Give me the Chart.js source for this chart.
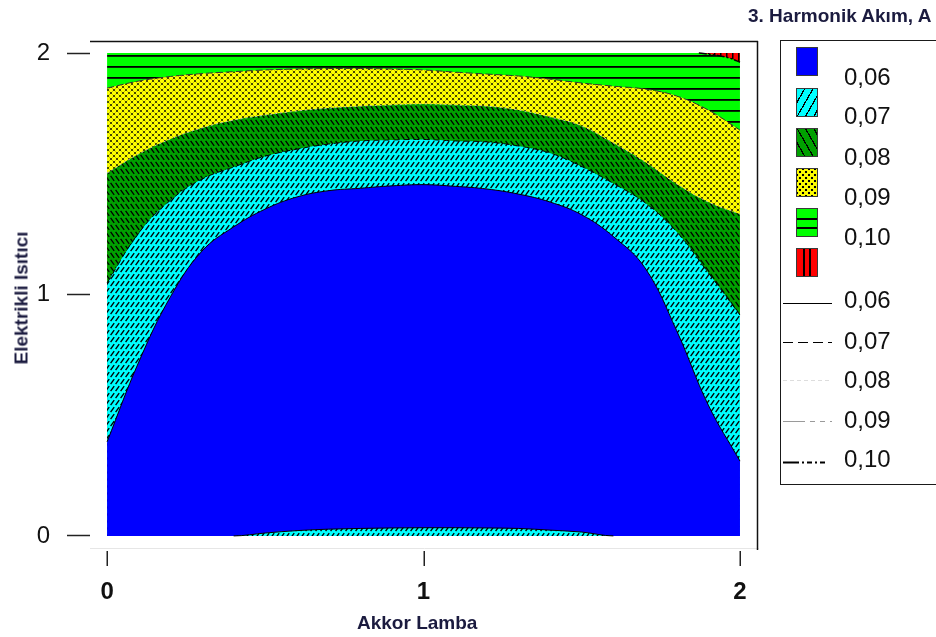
<!DOCTYPE html>
<html>
<head>
<meta charset="utf-8">
<script src="https://cdn.jsdelivr.net/npm/chart.js@4.4.1/dist/chart.umd.min.js"></script>
<style>
  html, body { margin: 0; padding: 0; background: #fff; }
  body { width: 936px; height: 637px; position: relative; overflow: hidden;
         font-family: "Liberation Sans", Arial, sans-serif; }
  #plot { position: absolute; left: 0; top: 0; }
  .heading { position: absolute; white-space: nowrap; font-weight: bold; font-size: 19px;
             line-height: 19px; color: #1b1b3f; }
  #legendBox { position: absolute; left: 780px; top: 40px; width: 300px; height: 445px;
               border: 1.5px solid #1a1a1a; box-sizing: border-box; }
  .sw { position: absolute; left: 796px; width: 22px; height: 29px; box-sizing: border-box;
        border: 1px solid #3a3a3a; }
  .lab { position: absolute; left: 844px; font-size: 24px; line-height: 24px; color: #111; }
  .ls { position: absolute; left: 783px; }
</style>
</head>
<body>
<canvas id="plot" width="936" height="637"></canvas>

<div class="heading" style="left:748px; top:6px;">3. Harmonik Akım, A</div>
<div class="heading" style="left:357px; top:613px;">Akkor Lamba</div>
<div class="heading" style="left:21px; top:298px; transform:translate(-50%,-50%) rotate(-90deg);">Elektrikli Isıtıcı</div>

<div id="legendBox"></div>
<div id="legendItems"></div>

<script>
// Grid positions along "Akkor Lamba"
const xValues = [0, 0.1, 0.2, 0.3, 0.4, 0.5, 0.6, 0.7, 0.8, 0.9, 1.0,
                 1.1, 1.2, 1.3, 1.4, 1.5, 1.6, 1.7, 1.8, 1.9, 2.0];

// "Elektrikli Isıtıcı" value of each contour line at those positions
const iso006Bottom = [0, 0, 0, 0, 0, 0.012, 0.022, 0.028, 0.031, 0.033, 0.034,
                      0.034, 0.033, 0.031, 0.024, 0.016, 0, 0, 0, 0, 0];
const iso006 = [0.39, 0.72, 0.99, 1.18, 1.28, 1.354, 1.404, 1.43, 1.44, 1.45, 1.455,
                1.448, 1.437, 1.416, 1.383, 1.33, 1.24, 1.11, 0.85, 0.542, 0.31];
const iso007 = [1.048, 1.255, 1.39, 1.478, 1.528, 1.573, 1.602, 1.623, 1.636, 1.64, 1.642,
                1.636, 1.632, 1.615, 1.586, 1.53, 1.46, 1.38, 1.26, 1.09, 0.915];
const iso008 = [1.503, 1.582, 1.644, 1.69, 1.722, 1.743, 1.76, 1.772, 1.78, 1.785, 1.789,
                1.785, 1.78, 1.764, 1.735, 1.698, 1.627, 1.549, 1.458, 1.383, 1.333];
const iso009 = [1.855, 1.884, 1.903, 1.915, 1.923, 1.93, 1.934, 1.936, 1.936, 1.934, 1.93,
                1.921, 1.913, 1.905, 1.892, 1.876, 1.863, 1.851, 1.822, 1.764, 1.681];
const iso010X = [1.87, 1.93, 1.97, 2.0];
const iso010 = [2.0, 1.99, 1.978, 1.962];

const xTicks = [0, 1, 2];
const yTicks = [0, 1, 2];
const levelLabels = ['0,06', '0,07', '0,08', '0,09', '0,10'];
const xRange = [0, 2];
const yRange = [0, 2];

// Fill patterns for the contour bands
function tile(w, h, bg, paint) {
  const c = document.createElement('canvas');
  c.width = w; c.height = h;
  const g = c.getContext('2d');
  g.fillStyle = bg; g.fillRect(0, 0, w, h);
  paint(g);
  return g.createPattern(c, 'repeat');
}
const patCyan = tile(5, 7, '#00FFFF', g => {
  g.strokeStyle = '#000'; g.lineWidth = 1.35;
  g.beginPath(); g.moveTo(0.6, 6.2); g.lineTo(4.2, 1.2); g.stroke();
});
const patGreen = tile(5, 7, '#00A000', g => {
  g.strokeStyle = '#000'; g.lineWidth = 1.3;
  g.beginPath(); g.moveTo(0.6, 0.8); g.lineTo(4.2, 5.8); g.stroke();
});
const patYellow = tile(6, 6, '#FFFF00', g => {
  g.fillStyle = 'rgba(0,0,0,0.8)';
  [[0, 0], [6, 0], [0, 6], [6, 6], [3, 3]].forEach(([x, y]) => {
    g.beginPath(); g.arc(x, y, 1.1, 0, Math.PI * 2); g.fill();
  });
  g.strokeStyle = 'rgba(0,0,0,0.35)'; g.lineWidth = 0.6;
  g.beginPath();
  g.moveTo(0, 0); g.lineTo(6, 6);
  g.moveTo(6, 0); g.lineTo(0, 6);
  g.stroke();
});
const patBright = tile(4, 11, '#00FF00', g => {
  g.fillStyle = '#000'; g.fillRect(0, 0, 4, 1.8);
});
const patRed = tile(6, 4, '#FF0000', g => {
  g.fillStyle = '#000'; g.fillRect(0, 0, 1.5, 4);
});

const pts = (xs, ys) => xs.map((x, i) => ({ x, y: ys[i] }));

// Frame lines and x tick marks
const framePlugin = {
  id: 'frame',
  afterDraw(chart) {
    const { ctx, chartArea: a, scales } = chart;
    ctx.save();
    ctx.strokeStyle = '#111';
    ctx.lineWidth = 1.5;
    ctx.beginPath();
    ctx.moveTo(a.left, a.top + 0.5);
    ctx.lineTo(a.right, a.top + 0.5);
    ctx.moveTo(a.right - 0.5, a.top);
    ctx.lineTo(a.right - 0.5, a.bottom + 2);
    ctx.stroke();
    ctx.strokeStyle = '#222';
    ctx.beginPath();
    xTicks.forEach(v => {
      const px = Math.round(scales.x.getPixelForValue(v)) + 0.25;
      ctx.moveTo(px, a.bottom + 3);
      ctx.lineTo(px, a.bottom + 18);
    });
    ctx.stroke();
    ctx.restore();
  }
};

const FONT = '"Liberation Sans", Arial, sans-serif';

new Chart(document.getElementById('plot'), {
  type: 'line',
  data: {
    datasets: [
      { // thin 0,07 sliver along the bottom edge
        data: pts(xValues, iso006Bottom), fill: { value: yRange[0] }, backgroundColor: patCyan,
        borderColor: '#000', borderWidth: 1, cubicInterpolationMode: 'monotone',
        segment: { borderColor: c => (c.p0.parsed.y === 0 && c.p1.parsed.y === 0) ? 'rgba(0,0,0,0)' : '#000' }
      },
      { // 0,06 zone
        data: pts(xValues, iso006), fill: { value: yRange[0] }, backgroundColor: '#0000FF',
        borderColor: '#000', borderWidth: 1, tension: 0.4
      },
      { // 0,07 zone
        data: pts(xValues, iso007), fill: { value: yRange[0] }, backgroundColor: patCyan,
        borderColor: '#000', borderWidth: 1, borderDash: [6, 4], tension: 0.4
      },
      { // 0,08 zone
        data: pts(xValues, iso008), fill: { value: yRange[0] }, backgroundColor: patGreen,
        borderColor: '#bdbdbd', borderWidth: 1, borderDash: [2, 3], tension: 0.4
      },
      { // 0,09 zone
        data: pts(xValues, iso009), fill: { value: yRange[0] }, backgroundColor: patYellow,
        borderColor: '#333', borderWidth: 1, borderDash: [7, 3], tension: 0.4
      },
      { // above 0,10
        data: pts(iso010X, iso010), fill: { value: yRange[1] }, backgroundColor: patRed,
        borderColor: '#000', borderWidth: 1.5, borderDash: [8, 2, 2, 2, 2, 2], cubicInterpolationMode: 'monotone'
      },
      { // 0,10 zone (whole field underneath)
        data: pts(xRange, [yRange[1], yRange[1]]), fill: { value: yRange[0] }, backgroundColor: patBright,
        borderWidth: 0
      }
    ]
  },
  options: {
    responsive: false,
    animation: false,
    devicePixelRatio: 1,
    layout: { padding: { left: 0, top: 41, right: 178, bottom: 0 } },
    elements: { point: { radius: 0, hoverRadius: 0 }, line: { tension: 0 } },
    plugins: { legend: { display: false }, tooltip: { enabled: false } },
    events: [],
    scales: {
      x: {
        type: 'linear',
        min: -0.054, max: 2.057,
        afterBuildTicks: s => { s.ticks = xTicks.map(v => ({ value: v })); },
        afterFit: s => { s.height = 89; },
        grid: { display: false, drawTicks: false },
        border: { display: true, color: '#e6e6e6', width: 1 },
        ticks: { font: { family: FONT, size: 24, weight: 'bold' }, color: '#111', padding: 30, maxRotation: 0 }
      },
      y: {
        type: 'linear',
        min: -0.05, max: 2.05,
        afterBuildTicks: s => { s.ticks = yTicks.map(v => ({ value: v })); },
        afterFit: s => { s.width = 90; },
        grid: { display: true, drawOnChartArea: false, drawTicks: true, tickLength: 23,
                tickColor: '#222', tickWidth: 1.5 },
        border: { display: false },
        ticks: { font: { family: FONT, size: 24 }, color: '#111', padding: 17 }
      }
    }
  },
  plugins: [framePlugin]
});

// Legend: band swatches and contour line samples
const swatchStyles = [
  'background:#0000FF;',
  'background:repeating-linear-gradient(120deg, #00FFFF 0 6px, #000 6px 7.2px);',
  'background:repeating-linear-gradient(60deg, #00A000 0 6px, #000 6px 7.2px);',
  'background:radial-gradient(circle, #000 0 1.1px, transparent 1.6px) 0 0/6px 6px, radial-gradient(circle, #000 0 1.1px, transparent 1.6px) 3px 3px/6px 6px, #FFFF00;',
  'background:linear-gradient(#000,#000) 0 9px/100% 2px no-repeat, linear-gradient(#000,#000) 0 18px/100% 2px no-repeat, #00FF00;',
  'background:linear-gradient(90deg,#000,#000) 6px 0/2px 100% no-repeat, linear-gradient(90deg,#000,#000) 12px 0/2px 100% no-repeat, #FF0000;'
];
const swatchTops = [47, 88, 128, 168, 208, 248];
const bandLabelTops = [65, 104, 145, 185, 225];
const lineLabelTops = [288, 329, 368, 408, 447];
const lineSampleY = [303, 342, 380, 421, 462];
const lineStyles = [
  { color: '#000', width: 1, dash: '' },
  { color: '#000', width: 1, dash: '10 5' },
  { color: '#dddddd', width: 1, dash: '4 3' },
  { color: '#9a9a9a', width: 1, dash: '22 5 5 5 5 5' },
  { color: '#000', width: 2, dash: '16 3 2 3 5 3 2 3 5' }
];

const holder = document.getElementById('legendItems');
let html = '';
swatchStyles.forEach((st, i) => {
  html += `<div class="sw" style="top:${swatchTops[i]}px;${st}"></div>`;
});
levelLabels.forEach((t, i) => {
  html += `<div class="lab" style="top:${bandLabelTops[i]}px;">${t}</div>`;
});
levelLabels.forEach((t, i) => {
  const s = lineStyles[i];
  html += `<svg class="ls" style="top:${lineSampleY[i] - 5}px;" width="50" height="10">` +
          `<line x1="0" y1="5.5" x2="49" y2="5.5" stroke="${s.color}" stroke-width="${s.width}"` +
          (s.dash ? ` stroke-dasharray="${s.dash}"` : '') + `/></svg>`;
  html += `<div class="lab" style="top:${lineLabelTops[i]}px;">${t}</div>`;
});
holder.innerHTML = html;
</script>
</body>
</html>
